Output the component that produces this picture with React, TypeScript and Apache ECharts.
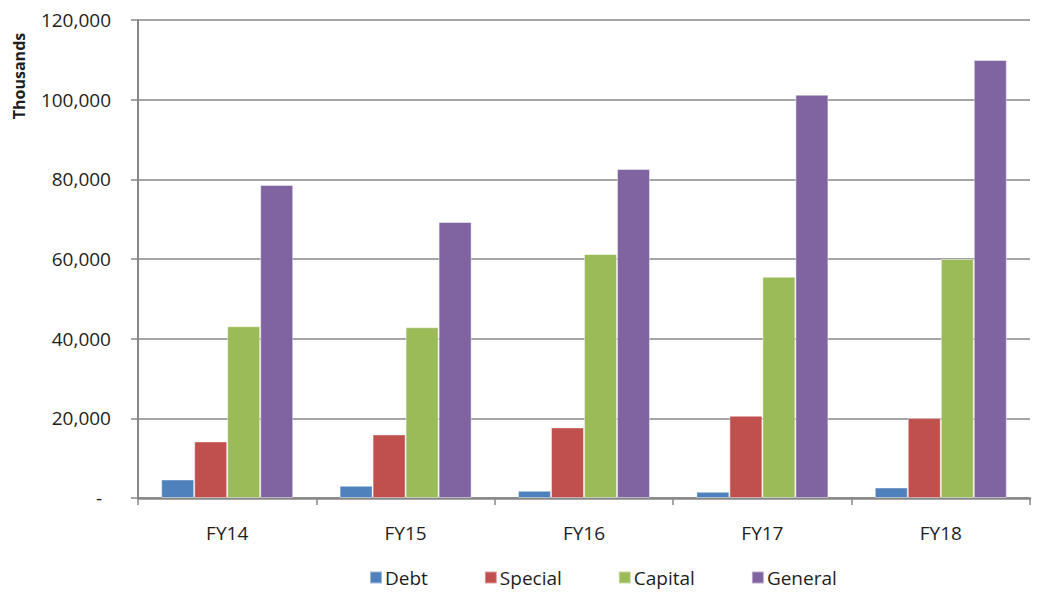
import React, { useEffect, useRef } from "react";
import * as echarts from "echarts";

const categories = ["FY14", "FY15", "FY16", "FY17", "FY18"];
const debt = [4650, 3070, 1810, 1560, 2640];
const special = [14200, 15960, 17720, 20650, 20060];
const capital = [43110, 42860, 61250, 55560, 60000];
const general = [78570, 69290, 82590, 101250, 109950];
const seriesNames = ["Debt", "Special", "Capital", "General"];
const colors = ["#4F81BD", "#C0504D", "#9BBB59", "#8064A2"];
const yAxisTitle = "Thousands";

const FONT = "'Open Sans', sans-serif";
const TEXT = "#1e1e1e";
const GRID = "#878787";

export default function App() {
  const ref = useRef<HTMLDivElement>(null);
  useEffect(() => {
    if (!ref.current) return;
    const chart = echarts.init(ref.current, undefined, { renderer: "svg" });
    const data = [debt, special, capital, general];
    chart.setOption({
      animation: false,
      backgroundColor: "#ffffff",
      grid: { left: 138, right: 9, top: 20, bottom: 95, containLabel: false },
      legend: {
        top: 563,
        left: 364,
        itemWidth: 12,
        itemHeight: 12,
        itemGap: 56,
        icon: "rect",
        textStyle: { fontFamily: FONT, fontSize: 19, color: TEXT, padding: [0, 0, 0, -2] },
        data: seriesNames,
      },
      graphic: [
        {
          type: "text",
          x: 19,
          y: 76,
          rotation: Math.PI / 2,
          style: {
            text: yAxisTitle,
            fontFamily: FONT,
            fontSize: 16,
            fontWeight: "bold",
            fill: TEXT,
            align: "center",
            verticalAlign: "middle",
          },
        },
      ],
      xAxis: {
        type: "category",
        data: categories,
        axisLine: { lineStyle: { color: GRID, width: 2.5 } },
        axisTick: { show: true, length: 7, lineStyle: { color: GRID, width: 1.5 } },
        axisLabel: { fontFamily: FONT, fontSize: 19, color: TEXT, margin: 25 },
      },
      yAxis: {
        type: "value",
        min: 0,
        max: 120000,
        interval: 20000,
        axisLine: { show: true, lineStyle: { color: GRID, width: 2 } },
        axisTick: { show: true, length: 7, lineStyle: { color: GRID, width: 1.5 } },
        splitLine: { show: true, lineStyle: { color: GRID, width: 1.6 } },
        axisLabel: {
          fontFamily: FONT,
          fontSize: 19,
          color: TEXT,
          margin: 27,
          formatter: (v: number) =>
            v === 0 ? "{z|-}" : v.toLocaleString("en-US"),
          rich: { z: { fontFamily: FONT, fontSize: 19, color: TEXT, padding: [0, 9, 0, 0] } },
        },
      },
      series: seriesNames.map((name, i) => ({
        name,
        type: "bar",
        data: data[i],
        barGap: "0%",
        barCategoryGap: "26%",
        itemStyle: {
          color: colors[i],
          borderColor: "rgba(255,255,255,0.45)",
          borderWidth: 1,
        },
      })),
    });
    return () => chart.dispose();
  }, []);
  return <div ref={ref} style={{ width: 1039, height: 593, position: "absolute", left: 0, top: 0 }} />;
}
